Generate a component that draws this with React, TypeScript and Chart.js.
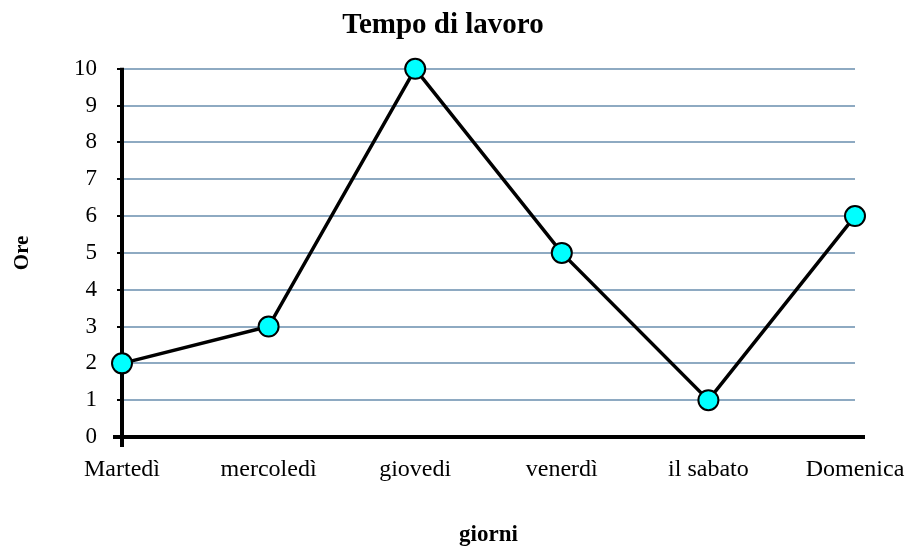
import React, { useEffect, useRef } from "react";
import { Chart, registerables } from "chart.js";

Chart.register(...registerables);

const TITLE = "Tempo di lavoro";
const X_TITLE = "giorni";
const Y_TITLE = "Ore";
const categories = ["Martedì", "mercoledì", "giovedi", "venerdì", "il sabato", "Domenica"];
const hours = [2, 3, 10, 5, 1, 6];
const Y_MIN = 0;
const Y_MAX = 10;
const Y_STEP = 1;

const FONT = "'Liberation Serif', 'Times New Roman', serif";

const axisLines = {
  id: "axisLines",
  beforeDatasetsDraw(chart: any) {
    const { ctx, chartArea } = chart;
    ctx.save();
    ctx.strokeStyle = "#000000";
    ctx.lineWidth = 4;
    ctx.lineCap = "butt";
    ctx.beginPath();
    ctx.moveTo(chartArea.left, chartArea.top - 1);
    ctx.lineTo(chartArea.left, chartArea.bottom + 10);
    ctx.moveTo(chartArea.left - 9, chartArea.bottom);
    ctx.lineTo(chartArea.right + 10, chartArea.bottom);
    ctx.stroke();
    ctx.restore();
  },
};

export default function App() {
  const ref = useRef<HTMLCanvasElement>(null);
  useEffect(() => {
    if (!ref.current) return;
    const chart = new Chart(ref.current, {
      type: "line",
      data: {
        labels: categories,
        datasets: [
          {
            label: Y_TITLE,
            data: hours,
            borderColor: "#000000",
            borderWidth: 3.5,
            backgroundColor: "#00FFFF",
            pointBackgroundColor: "#00FFFF",
            pointBorderColor: "#000000",
            pointBorderWidth: 2,
            pointRadius: 10,
            tension: 0,
            clip: false as any,
          },
        ],
      },
      options: {
        responsive: false,
        animation: false,
        layout: { padding: { left: 0, right: 19, top: 0, bottom: 0 } },
        plugins: {
          legend: { display: false },
          tooltip: { enabled: false },
          title: {
            display: true,
            text: TITLE,
            color: "#000000",
            font: { family: FONT, size: 29, weight: "bold" },
            padding: { top: 8, bottom: 26 },
          },
        },
        scales: {
          x: {
            type: "category",
            offset: false,
            grid: { display: false, drawTicks: false },
            border: { display: false },
            ticks: {
              color: "#000000",
              font: { family: FONT, size: 24 },
              padding: 18,
              maxRotation: 0,
              autoSkip: false,
            },
            title: {
              display: true,
              text: X_TITLE,
              color: "#000000",
              font: { family: FONT, size: 23, weight: "bold", lineHeight: 1 },
              padding: { top: 0, bottom: 0 },
            },
            afterFit(scale: any) {
              scale.height = 110;
              scale.paddingLeft = 0;
              scale.paddingRight = 0;
            },
          },
          y: {
            min: Y_MIN,
            max: Y_MAX,
            position: "left",
            grid: {
              color: "#8EAAC2",
              lineWidth: 2,
              drawTicks: true,
              tickLength: 5,
              tickColor: "#000000",
              tickWidth: 2,
            },
            border: { display: false },
            ticks: {
              stepSize: Y_STEP,
              color: "#000000",
              font: { family: FONT, size: 23 },
              padding: 20,
            },
            title: {
              display: true,
              text: Y_TITLE,
              color: "#000000",
              font: { family: FONT, size: 21, weight: "bold" },
              padding: { top: 10, bottom: 0 },
            },
            afterFit(scale: any) {
              scale.width = 122;
              scale.paddingTop = 0;
              scale.paddingBottom = 0;
            },
          },
          y2: {
            position: "right",
            display: true,
            grid: { display: false, drawTicks: false },
            border: { display: false },
            ticks: { display: false },
            title: { display: false },
            afterFit(scale: any) {
              scale.width = 31;
            },
          },
        },
      },
      plugins: [axisLines],
    });
    return () => chart.destroy();
  }, []);
  return (
    <div style={{ position: "fixed", left: 0, top: 0, width: 905, height: 547, background: "#ffffff" }}>
      <canvas ref={ref} width={905} height={547} />
    </div>
  );
}
